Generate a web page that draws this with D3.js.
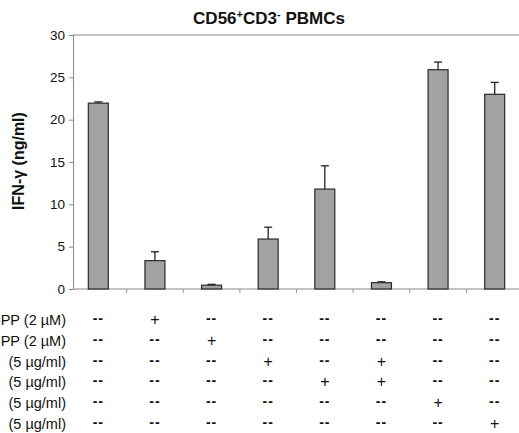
<!DOCTYPE html>
<html>
<head>
<meta charset="utf-8">
<script src="https://d3js.org/d3.v7.min.js"></script>
<style>
  body { margin: 0; background: #fff; font-family: Arial, "Liberation Sans", Helvetica, sans-serif; }
  svg text { fill: #111; }
</style>
</head>
<body>
<div id="chart"></div>
<script>
// values
var groups = ["g1", "g2", "g3", "g4", "g5", "g6", "g7", "g8"];
var ifng = [21.95, 3.35, 0.45, 5.9, 11.8, 0.75, 25.9, 23.0];
var errTop = [22.1, 4.4, 0.55, 7.3, 14.55, 0.85, 26.8, 24.4];
var yTicks = [0, 5, 10, 15, 20, 25, 30];

var rowLabels = ["PP (2 \u00b5M)", "PP (2 \u00b5M)", "(5 \u00b5g/ml)", "(5 \u00b5g/ml)", "(5 \u00b5g/ml)", "(5 \u00b5g/ml)"];
var rowMarks = [
  ["--", "+", "--", "--", "--", "--", "--", "--"],
  ["--", "--", "+", "--", "--", "--", "--", "--"],
  ["--", "--", "--", "+", "--", "+", "--", "--"],
  ["--", "--", "--", "--", "+", "+", "--", "--"],
  ["--", "--", "--", "--", "--", "--", "+", "--"],
  ["--", "--", "--", "--", "--", "--", "--", "+"]
];

var width = 519, height = 433;
var plot = {left: 73, top: 35, bottom: 289, right: 519};

var svg = d3.select("#chart").append("svg")
    .attr("width", width)
    .attr("height", height);

var x = d3.scaleBand().domain(groups).range([70, 523]).paddingInner(0).paddingOuter(0);
var y = d3.scaleLinear().domain([0, 30]).range([plot.bottom, plot.top]);
var barW = 20;

// top frame line
svg.append("line")
    .attr("x1", plot.left).attr("x2", plot.right)
    .attr("y1", y(30)).attr("y2", y(30))
    .attr("stroke", "#888").attr("stroke-width", 1);

// y axis
var yAxis = svg.append("g")
    .attr("transform", "translate(" + plot.left + ",0)")
    .call(d3.axisLeft(y).tickValues(yTicks).tickSize(4).tickPadding(4));
yAxis.select(".domain").attr("stroke", "#888");
yAxis.selectAll(".tick line").attr("stroke", "#888");
yAxis.selectAll(".tick text")
    .attr("font-size", 13.5)
    .attr("font-family", "Arial, 'Liberation Sans', sans-serif")
    .attr("fill", "#222");

// x axis (gray baseline with small ticks between groups)
svg.append("line")
    .attr("x1", plot.left).attr("x2", plot.right)
    .attr("y1", plot.bottom).attr("y2", plot.bottom)
    .attr("stroke", "#888");
svg.selectAll(".xtick")
    .data(groups.slice(1))
    .enter().append("line")
    .attr("class", "xtick")
    .attr("x1", function(d) { return x(d); })
    .attr("x2", function(d) { return x(d); })
    .attr("y1", plot.bottom).attr("y2", plot.bottom + 4)
    .attr("stroke", "#999");

// error bars (drawn first so bar covers lower part)
var eb = svg.selectAll(".err")
    .data(groups)
    .enter().append("g")
    .attr("class", "err");
eb.append("line")
    .attr("x1", function(d) { return x(d) + x.bandwidth() / 2; })
    .attr("x2", function(d) { return x(d) + x.bandwidth() / 2; })
    .attr("y1", function(d, i) { return y(ifng[i]); })
    .attr("y2", function(d, i) { return y(errTop[i]); })
    .attr("stroke", "#222").attr("stroke-width", 1.3);
eb.append("line")
    .attr("x1", function(d) { return x(d) + x.bandwidth() / 2 - 4; })
    .attr("x2", function(d) { return x(d) + x.bandwidth() / 2 + 4; })
    .attr("y1", function(d, i) { return y(errTop[i]); })
    .attr("y2", function(d, i) { return y(errTop[i]); })
    .attr("stroke", "#222").attr("stroke-width", 1.3);

// bars
svg.selectAll(".bar")
    .data(groups)
    .enter().append("rect")
    .attr("class", "bar")
    .attr("x", function(d) { return x(d) + (x.bandwidth() - barW) / 2; })
    .attr("width", barW)
    .attr("y", function(d, i) { return y(ifng[i]); })
    .attr("height", function(d, i) { return y(0) - y(ifng[i]); })
    .attr("fill", "#a2a2a2")
    .attr("stroke", "#2a2a2a")
    .attr("stroke-width", 1.2);

// title
var title = svg.append("text")
    .attr("x", 269).attr("y", 24)
    .attr("text-anchor", "middle")
    .attr("font-size", 17)
    .attr("font-weight", "bold");
title.append("tspan").text("CD56");
title.append("tspan").attr("font-size", 11).attr("dy", -6).text("+");
title.append("tspan").attr("dy", 6).text("CD3");
title.append("tspan").attr("font-size", 11).attr("dy", -6).text("-");
title.append("tspan").attr("dy", 6).text(" PBMCs");

// y label
svg.append("text")
    .attr("transform", "translate(24,161) rotate(-90)")
    .attr("text-anchor", "middle")
    .attr("font-size", 16)
    .attr("font-weight", "bold")
    .text("IFN-\u03b3 (ng/ml)");

// treatment table
var rowY = d3.scalePoint().domain(d3.range(rowLabels.length)).range([320, 424]);

svg.selectAll(".rowlab")
    .data(rowLabels)
    .enter().append("text")
    .attr("class", "rowlab")
    .attr("x", 66)
    .attr("y", function(d, i) { return rowY(i) + 5; })
    .attr("text-anchor", "end")
    .attr("font-size", 14.5)
    .text(function(d) { return d; });

var rows = svg.selectAll(".row")
    .data(rowMarks)
    .enter().append("g")
    .attr("class", "row");
rows.selectAll("text")
    .data(function(d, i) { return d.map(function(m, j) { return {m: m, r: i, g: groups[j]}; }); })
    .enter().append("text")
    .attr("x", function(d) { return x(d.g) + x.bandwidth() / 2; })
    .attr("y", function(d) { return rowY(d.r) + (d.m === "+" ? 5 : 3); })
    .attr("text-anchor", "middle")
    .attr("font-size", function(d) { return d.m === "+" ? 16 : 14; })
    .attr("font-weight", function(d) { return d.m === "+" ? "normal" : "bold"; })
    .attr("letter-spacing", function(d) { return d.m === "+" ? 0 : 1; })
    .attr("fill", "#222")
    .text(function(d) { return d.m; });
</script>
</body>
</html>
